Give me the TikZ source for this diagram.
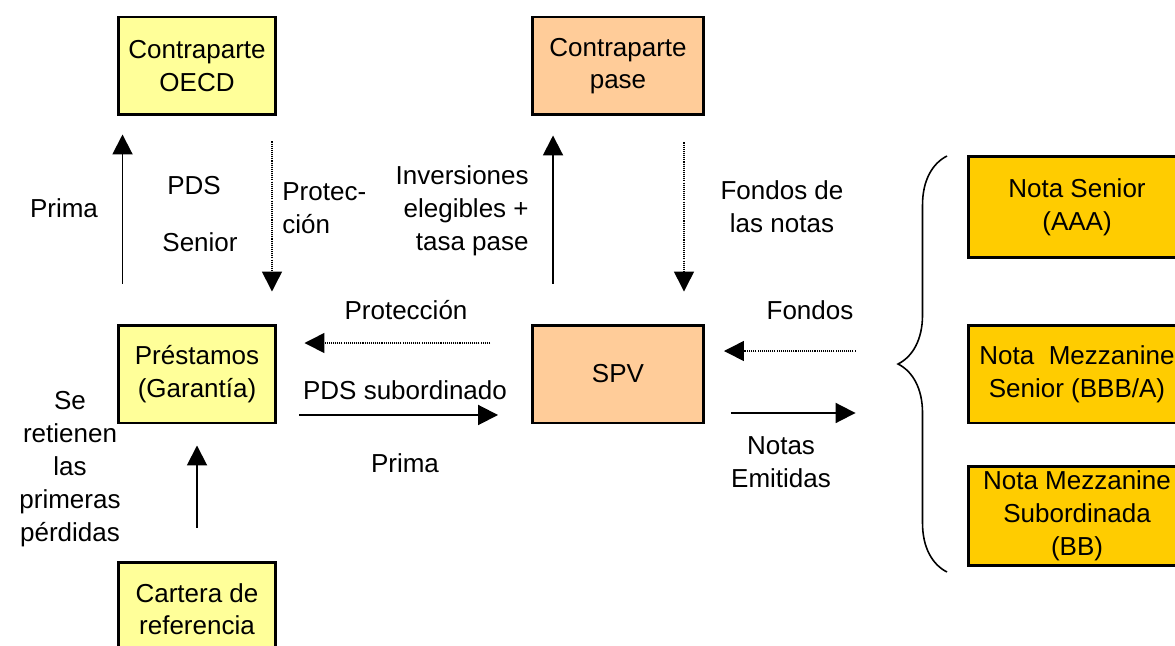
\documentclass[tikz,border=0pt]{standalone}
\usepackage{fontspec}
\setmainfont{Liberation Sans}
\usetikzlibrary{arrows.meta,decorations.pathreplacing}
\definecolor{paleyellow}{HTML}{FFFF99}
\definecolor{peach}{HTML}{FFCC99}
\definecolor{gold}{HTML}{FFCC00}
\tikzset{
  box/.style={draw=black,line width=1.7pt,align=center,inner sep=0pt},
  lightbox/.style={box,fill=paleyellow,minimum width=3.16cm,minimum height=1.96cm},
  peachbox/.style={box,fill=peach,minimum width=3.42cm,minimum height=1.96cm},
  notebox/.style={box,fill=gold,minimum width=4.36cm,minimum height=1.98cm},
  flow/.style={line width=1.1pt,-{Triangle[length=0.4cm,width=0.4cm]}},
  dotflow/.style={line width=0.85pt,dash pattern=on 0.6pt off 0.6pt,-{Triangle[length=0.4cm,width=0.4cm]}},
  lbl/.style={align=center,inner sep=0pt}
}
\begin{document}
\begin{tikzpicture}[x=0.02cm,y=-0.02cm,font=\fontsize{14.8pt}{18.7pt}\selectfont]
  \useasboundingbox (0,0) rectangle (1175,645);
  \clip (0,0) rectangle (1175,645);
  \draw
    (197,66) node[lightbox] (oecd) {Contraparte\\OECD}
    (618,66) node[peachbox] (pase) {\strut Contraparte\\\strut pase}
    (197,374) node[lightbox] (prestamos) {Préstamos\\(Garantía)}
    (618,374) node[peachbox] (spv) {SPV}
    (197,612) node[lightbox,minimum height=2cm,text depth=0.12cm] (cartera) {Cartera de\\referencia}
    (1077,207) node[notebox,minimum height=2.02cm] (senior) {Nota Senior\\(AAA)}
    (1077,374) node[notebox,minimum height=1.96cm] (mezz) {Nota\ \ Mezzanine\\Senior (BBB/A)}
    (1077,516) node[notebox] (sub) {Nota Mezzanine\\Subordinada\\(BB)};
  \draw
    (64,208) node[lbl] (prima1) {Prima}
    (194,186) node[lbl] (pds) {PDS}
    (200,242) node[lbl] (pdssenior) {Senior}
    (282,208) node[lbl,align=left,anchor=west] (protec) {Protec-\\ción}
    (529,211) node[lbl,align=right,anchor=east] (inversiones) {Inversiones\\elegibles +\\tasa pase}
    (782,207) node[lbl] (fondosnotas) {Fondos de\\las notas}
    (406,310) node[lbl] (proteccion) {Protección}
    (810,310) node[lbl] (fondos) {Fondos}
    (405,390) node[lbl] (pdssub) {PDS subordinado}
    (405,463) node[lbl] (prima2) {Prima}
    (781,462) node[lbl] (emitidas) {Notas\\Emitidas}
    (70,469) node[lbl] (retienen) {Se\\retienen\\las\\primeras\\pérdidas};
  \begin{scope}
    \draw[flow] ([xshift=-1.49cm,yshift=0.8cm]prestamos.north) to ([xshift=-1.49cm,yshift=-0.36cm]oecd.south);
    \draw[dotflow] ([xshift=1.5cm,yshift=-0.5cm]oecd.south) to ([xshift=1.5cm,yshift=0.64cm]prestamos.north);
    \draw[flow] ([xshift=-1.3cm,yshift=0.8cm]spv.north) to ([xshift=-1.3cm,yshift=-0.38cm]pase.south);
    \draw[dotflow] ([xshift=1.32cm,yshift=-0.52cm]pase.south) to ([xshift=1.32cm,yshift=0.64cm]spv.north);
    \draw[dotflow] ([xshift=-0.82cm,yshift=0.62cm]spv.west) to ([xshift=0.54cm,yshift=0.62cm]prestamos.east);
    \draw[flow] ([xshift=0.44cm,yshift=-0.82cm]prestamos.east) to ([xshift=-0.66cm,yshift=-0.82cm]spv.west);
    \draw[dotflow] ([xshift=-2.22cm,yshift=0.46cm]mezz.west) to ([xshift=0.38cm,yshift=0.46cm]spv.east);
    \draw[flow] ([xshift=0.52cm,yshift=-0.78cm]spv.east) to ([xshift=-2.22cm,yshift=-0.78cm]mezz.west);
    \draw[flow] ([yshift=0.66cm]cartera.north) to ([yshift=-0.42cm]prestamos.south);
  \end{scope}
  \coordinate (bracetop) at (947,156);
  \coordinate (bracebottom) at (947,572);
  \draw[line width=0.9pt,decorate,decoration={brace,amplitude=0.98cm}] (bracebottom) to (bracetop);
\end{tikzpicture}
\end{document}
